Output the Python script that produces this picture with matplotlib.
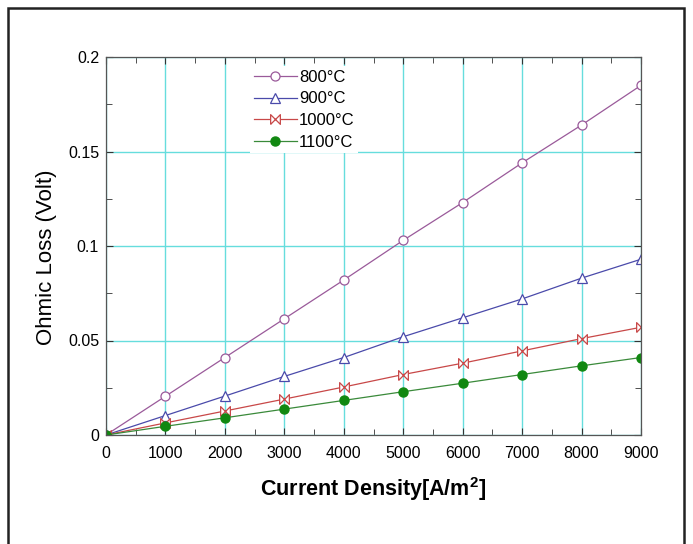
import numpy as np
import matplotlib
matplotlib.use("Agg")
import matplotlib.pyplot as plt
from matplotlib.patches import Rectangle

plt.rcParams['font.family'] = ['Liberation Sans', 'DejaVu Sans']
plt.rcParams['mathtext.fontset'] = 'custom'
plt.rcParams['mathtext.rm'] = 'Liberation Sans'
plt.rcParams['mathtext.bf'] = 'Liberation Sans:bold'

# current density [A/m2]
current = [0, 1000, 2000, 3000, 4000, 5000, 6000, 7000, 8000, 9000]

# ohmic loss (Volt)
loss_800 = [0, 0.0205, 0.041, 0.0615, 0.082, 0.103, 0.123, 0.144, 0.164, 0.185]
loss_900 = [0, 0.0103, 0.0206, 0.031, 0.041, 0.052, 0.062, 0.072, 0.083, 0.093]
loss_1000 = [0, 0.0064, 0.0127, 0.019, 0.0254, 0.032, 0.038, 0.0445, 0.051, 0.057]
loss_1100 = [0, 0.0046, 0.0091, 0.0137, 0.0183, 0.0229, 0.0274, 0.032, 0.0366, 0.041]

labels = ['800°C', '900°C', '1000°C', '1100°C']

fig = plt.figure(figsize=(6.93, 5.44), dpi=100)
ax = fig.add_axes([106/693, 1 - 435/544, (641-106)/693, (435-57)/544])

# outer frame of the picture
fig.patches.append(Rectangle((8/693, -0.05), (684-8)/693, 1.05 - 8/544,
                             transform=fig.transFigure, fill=False,
                             edgecolor='#222222', linewidth=1.8))

# bowtie marker: two triangles meeting at the centre
bowtie = [(-1, -1), (1, 1), (1, -1), (-1, 1), (-1, -1)]

ax.plot(current, loss_800, '-o', color='#9a5a9a', lw=0.9, ms=6.5,
        mfc='white', mec='#9a5a9a', mew=0.9, label=labels[0])
ax.plot(current, loss_900, '-^', color='#4a4aaa', lw=0.9, ms=6.5,
        mfc='white', mec='#4a4aaa', mew=0.9, label=labels[1])
ax.plot(current, loss_1000, '-', color='#c84848', lw=0.9, label=labels[2],
        marker=bowtie, ms=7, mfc='white', mec='#c84848', mew=0.9)
ax.plot(current, loss_1100, '-o', color='#3a8a3a', lw=0.9, ms=6.5,
        mfc='#118811', mec='#118811', label=labels[3])

ax.set_xlim(0, 9000)
ax.set_ylim(0, 0.2)
ax.set_xticks(np.arange(0, 9001, 1000))
ax.set_yticks([0, 0.05, 0.1, 0.15, 0.2])
ax.set_yticklabels(['0', '0.05', '0.1', '0.15', '0.2'])
ax.set_xticks(np.arange(500, 9000, 1000), minor=True)
ax.set_yticks([0.025, 0.075, 0.125, 0.175], minor=True)
ax.tick_params(which='both', direction='in', top=True, right=True,
               labelsize=11.5, colors='#333333', labelcolor='black')
ax.tick_params(which='major', length=5)
ax.tick_params(which='minor', length=4)
ax.tick_params(axis='x', which='major', pad=8)
ax.tick_params(axis='y', which='major', pad=5)
ax.grid(True, which='major', color='#66dddd', lw=1.0)
ax.set_axisbelow(True)
for s in ax.spines.values():
    s.set_color('#555555')
    s.set_linewidth(0.9)

ax.set_xlabel(r'Current Density[A/m$^{\mathbf{2}}$]', fontsize=15.5,
              fontweight='bold', labelpad=10)
ax.set_ylabel('Ohmic Loss (Volt)', fontsize=16)
ax.yaxis.set_label_coords(-0.092, 0.47)

leg = ax.legend(loc='upper left', bbox_to_anchor=(0.27, 0.975), frameon=True,
                fontsize=12, handlelength=2.6, handletextpad=0.1,
                labelspacing=0.4, borderpad=0.2, borderaxespad=0)
leg.get_frame().set_facecolor('white')
leg.get_frame().set_edgecolor('none')
leg.get_frame().set_alpha(1)
leg.get_frame().set_boxstyle('square', pad=0)

fig.savefig('out.png', dpi=100)
